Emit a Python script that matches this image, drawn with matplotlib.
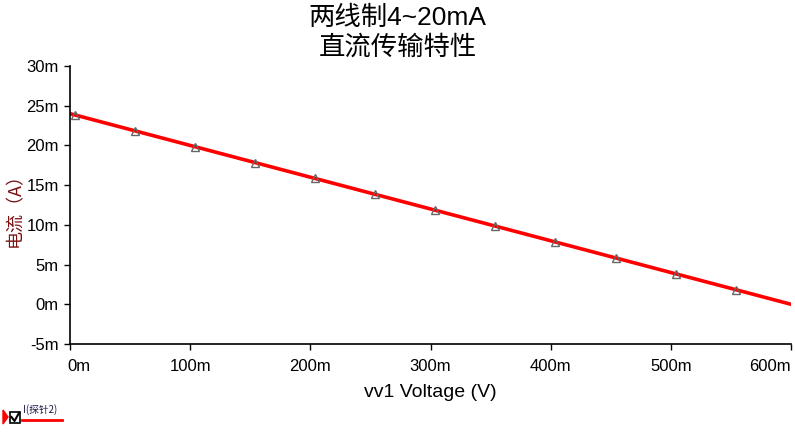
import matplotlib.pyplot as plt
from matplotlib.ticker import FuncFormatter
from matplotlib.lines import Line2D
from matplotlib.patches import Rectangle, Polygon
from matplotlib.transforms import ScaledTranslation

plt.rcParams['font.family'] = ['Liberation Sans', 'Noto Sans CJK SC', 'DejaVu Sans']

# sweep of vv1 (V) and the probe current (A)
volts = [0.0, 0.05, 0.10, 0.15, 0.20, 0.25, 0.30, 0.35, 0.40, 0.45, 0.50, 0.55, 0.60]
amps = [24e-3, 22e-3, 20e-3, 18e-3, 16e-3, 14e-3, 12e-3, 10e-3, 8e-3, 6e-3, 4e-3, 2e-3, 0.0]

# marker positions along the trace
mark_v = [0.004, 0.054, 0.104, 0.154, 0.204, 0.254, 0.304, 0.354, 0.404, 0.454, 0.504, 0.554]
mark_i = [23.84e-3, 21.84e-3, 19.84e-3, 17.84e-3, 15.84e-3, 13.84e-3, 11.84e-3,
          9.84e-3, 7.84e-3, 5.84e-3, 3.84e-3, 1.84e-3]

xticks = [0, 0.1, 0.2, 0.3, 0.4, 0.5, 0.6]
yticks = [-5e-3, 0, 5e-3, 10e-3, 15e-3, 20e-3, 25e-3, 30e-3]

fig = plt.figure(figsize=(7.95, 4.36), dpi=100)
ax = fig.add_axes([70 / 795, 1 - 344 / 436, 721 / 795, 278 / 436])

ax.plot(volts, amps, color='red', lw=2.6, zorder=2)
ax.plot(mark_v, mark_i, ls='none', marker='^', ms=5.5, mfc='none', mec='#666666', mew=1, zorder=3)

ax.set_xlim(0, 0.6)
ax.set_ylim(-5e-3, 30e-3)
ax.set_xticks(xticks)
ax.set_yticks(yticks)
fmt = FuncFormatter(lambda v, p: '%dm' % round(v * 1000))
ax.xaxis.set_major_formatter(fmt)
ax.yaxis.set_major_formatter(fmt)
ax.tick_params(direction='out', length=4, width=1, labelsize=12, colors='black')
ax.tick_params(axis='y', pad=4)
ax.tick_params(axis='x', pad=7)

xl = ax.get_xticklabels()
xl[0].set_horizontalalignment('left')
xl[0].set_transform(xl[0].get_transform() + ScaledTranslation(-0.03, 0, fig.dpi_scale_trans))
xl[-1].set_horizontalalignment('right')

for s in ['top', 'right']:
    ax.spines[s].set_visible(False)
for s in ['left', 'bottom']:
    ax.spines[s].set_linewidth(1.2)

ax.set_xlabel('vv1 Voltage (V)', fontsize=14, labelpad=7)
ax.set_ylabel('电流（A）', fontsize=13, color='#7a1212',
              family=['Noto Sans CJK SC', 'DejaVu Sans'])
ax.yaxis.set_label_coords(-46 / 721, 0.5)

fig.text(0.5, 1 - 18 / 436, '两线制4~20mA', ha='center', va='center', fontsize=19)
fig.text(0.5, 1 - 47 / 436, '直流传输特性', ha='center', va='center', fontsize=19)

# legend in lower-left corner
fig.patches.append(Polygon([[3 / 795, 1 - 410 / 436], [3 / 795, 1 - 424 / 436], [8 / 795, 1 - 417 / 436]],
                           closed=True, color='red', transform=fig.transFigure))
fig.patches.append(Rectangle((10 / 795, 1 - 423 / 436), 10 / 795, 11 / 436, fill=False,
                             ec='black', lw=1.2, transform=fig.transFigure))
fig.lines.append(Line2D([11.5 / 795, 14.5 / 795, 19 / 795], [1 - 417 / 436, 1 - 421 / 436, 1 - 413 / 436],
                        color='black', lw=1.5, transform=fig.transFigure))
fig.text(23 / 795, 1 - 410 / 436, 'I(探针2)', ha='left', va='center', fontsize=7,
         color='#1a1a4a', family=['Noto Sans CJK SC', 'DejaVu Sans'])
fig.lines.append(Line2D([22 / 795, 62 / 795], [1 - 420 / 436, 1 - 420 / 436],
                        color='red', lw=2, transform=fig.transFigure))

fig.savefig('out.png', dpi=100)
